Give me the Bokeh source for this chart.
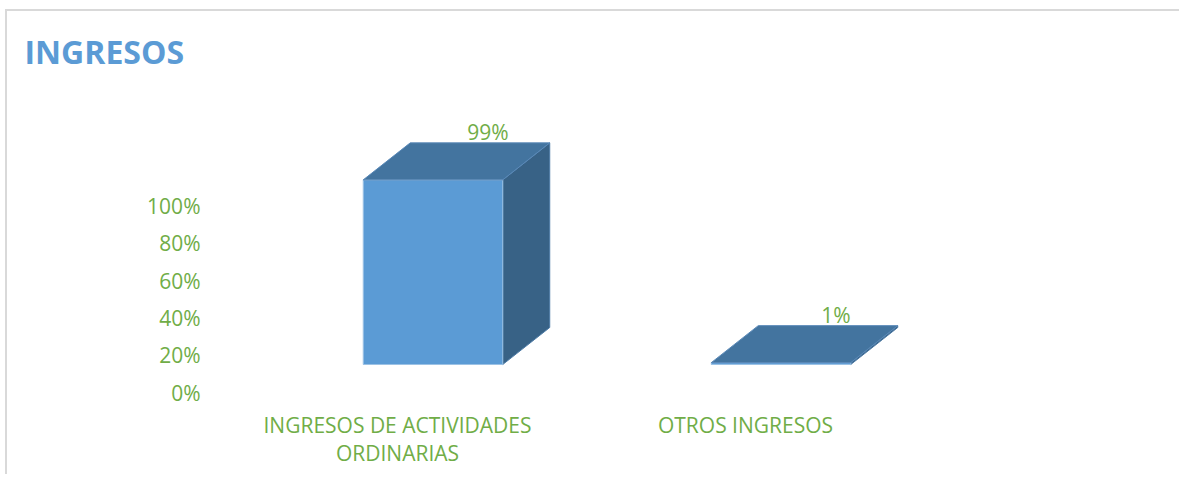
from bokeh.plotting import figure
from bokeh.models import LinearAxis, FixedTicker, NumeralTickFormatter, Range1d, ColumnDataSource
from bokeh.embed import file_html
from bokeh.resources import INLINE
from bokeh.core.properties import value

# ---------------- data ----------------
title_text = "INGRESOS"
categories = ["INGRESOS DE ACTIVIDADES\nORDINARIAS", "OTROS INGRESOS"]
shares = [0.99, 0.01]
share_labels = ["99%", "1%"]
y_ticks = [0.0, 0.2, 0.4, 0.6, 0.8, 1.0]

# ---------------- style ----------------
GREEN = "#70AD47"
BLUE = "#5B9BD5"
TOP = "#43749F"
SIDE = "#386286"
FONT = "Open Sans"

W, H = 1174, 465
PX_X = 348.0    # px per category step
PX_Y = 186.5    # px per 100%
# 3D projection (pixels -> data units)
BW = 139.5 / PX_X         # bar front width
DX = 47.0 / PX_X          # depth offset x
DY = 37.0 / PX_Y          # depth offset y
FX = 35.5 / PX_X          # front plane offset from axis plane
FY = 28.0 / PX_Y

p = figure(width=W, height=H, output_backend="svg", toolbar_location=None,
           x_range=Range1d(-0.5431, 2.0431), y_range=Range1d(-0.0643, 1.7158),
           x_axis_type=None, y_axis_type=None,
           min_border_left=201, min_border_right=73, min_border_top=61, min_border_bottom=72,
           outline_line_color=None, background_fill_color="white", border_fill_color="white",
           title=title_text)
p.styles = {"border-top": "2px solid #D9D9D9", "border-left": "2px solid #D9D9D9",
            "margin-left": "5px", "margin-top": "9px"}

p.title.text_font = FONT
p.title.text_font_style = "bold"
p.title.text_font_size = "32px"
p.title.text_color = BLUE
p.title.align = "left"
p.title.offset = -184
p.title.standoff = 0

yaxis = LinearAxis(ticker=FixedTicker(ticks=y_ticks), formatter=NumeralTickFormatter(format="0%"),
                   axis_line_color=None, major_tick_line_color=None, minor_tick_line_color=None,
                   major_tick_in=0, major_tick_out=0, major_label_standoff=8,
                   major_label_text_color=GREEN, major_label_text_font=FONT,
                   major_label_text_font_size="21px")
p.add_layout(yaxis, "left")

xaxis = LinearAxis(ticker=FixedTicker(ticks=list(range(len(categories)))),
                   major_label_overrides={i: c for i, c in enumerate(categories)},
                   axis_line_color=None, major_tick_line_color=None, minor_tick_line_color=None,
                   major_tick_in=0, major_tick_out=0, major_label_standoff=6,
                   major_label_text_color=GREEN, major_label_text_font=FONT,
                   major_label_text_font_size="21px", major_label_text_line_height=1.0)
p.add_layout(xaxis, "below")

front_xs, front_ys, top_xs, top_ys, side_xs, side_ys = [], [], [], [], [], []
lab_x, lab_y = [], []
for i, v in enumerate(shares):
    x0 = i + FX - BW / 2
    x1 = x0 + BW
    y0 = FY
    y1 = FY + v
    front_xs.append([x0, x1, x1, x0]); front_ys.append([y0, y0, y1, y1])
    top_xs.append([x0, x1, x1 + DX, x0 + DX]); top_ys.append([y1, y1, y1 + DY, y1 + DY])
    side_xs.append([x1, x1 + DX, x1 + DX, x1]); side_ys.append([y0, y0 + DY, y1 + DY, y1])
    lab_x.append(i + FX + DX)
    lab_y.append(y1 + DY)

p.patches(side_xs, side_ys, fill_color=SIDE, line_color="#4D7BA6", line_width=1)
p.patches(front_xs, front_ys, fill_color=BLUE, line_color="#9CC2E5", line_width=1)
p.patches(top_xs, top_ys, fill_color=TOP, line_color="#5A89B8", line_width=1)

src = ColumnDataSource(dict(x=lab_x, y=lab_y, t=share_labels))
p.text(x="x", y="y", text="t", source=src, text_align="center", text_baseline="middle",
       x_offset=8, y_offset=-11, text_color=GREEN, text_font=value(FONT), text_font_size="21px")

open("out.html", "w").write(file_html(p, INLINE))
